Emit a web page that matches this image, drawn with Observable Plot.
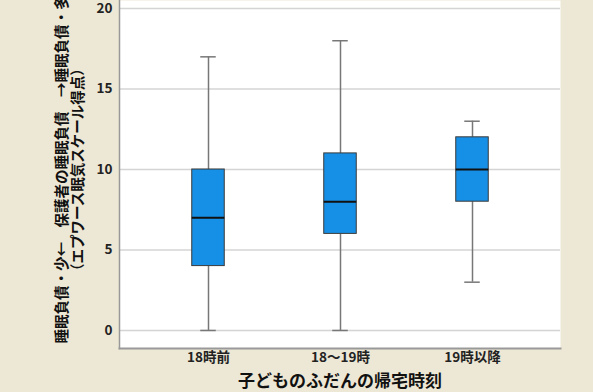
<!DOCTYPE html>
<html><head><meta charset="utf-8">
<script src="https://cdn.jsdelivr.net/npm/d3@7"></script>
<script src="https://cdn.jsdelivr.net/npm/@observablehq/plot@0.6"></script>
<style>
html,body{margin:0;padding:0;background:#ede7d5;}
#chart{width:593px;height:392px;overflow:hidden;}
</style></head>
<body><div id="chart"></div>
<script>
const categories = ["18時前", "18〜19時", "19時以降"];
const mins    = [0, 0, 3];
const q1s     = [4, 6, 8];
const medians = [7, 8, 10];
const q3s     = [10, 11, 12];
const maxs    = [17, 18, 13];
const yTicks  = [0, 5, 10, 15, 20];
const xTitle = "子どものふだんの帰宅時刻";
const yTitle1 = "睡眠負債・少←　保護者の睡眠負債　→睡眠負債・多";
const yTitle2 = "（エプワース眠気スケール得点）";

const data = categories.map((c, i) => ({cat: c, min: mins[i], q1: q1s[i], med: medians[i], q3: q3s[i], max: maxs[i]}));
const font = "'Noto Sans CJK JP', 'Noto Sans', sans-serif";
const boxInset = 49.75, capInset = 58.25;

const chart = Plot.plot({
  width: 593, height: 392,
  marginLeft: 119, marginRight: 33, marginTop: 0, marginBottom: 44,
  style: {background: "#ede7d5", fontFamily: font, overflow: "visible"},
  x: {type: "band", domain: categories, range: [140.75, 538.75], padding: 0, label: null},
  y: {domain: [-1.12, 20.5], label: null},
  marks: [
    Plot.frame({fill: "white", stroke: "none"}),
    Plot.gridY(yTicks, {stroke: "#d4d4d4", strokeOpacity: 1, strokeWidth: 1.5}),
    Plot.ruleX(data, {x: "cat", y1: "min", y2: "q1", stroke: "#777", strokeWidth: 1.5}),
    Plot.ruleX(data, {x: "cat", y1: "q3", y2: "max", stroke: "#777", strokeWidth: 1.5}),
    Plot.tickY(data, {x: "cat", y: "min", stroke: "#777", strokeWidth: 1.5, insetLeft: capInset, insetRight: capInset}),
    Plot.tickY(data, {x: "cat", y: "max", stroke: "#777", strokeWidth: 1.5, insetLeft: capInset, insetRight: capInset}),
    Plot.barY(data, {x: "cat", y1: "q1", y2: "q3", fill: "#1690e6", stroke: "#3a3a3a", strokeWidth: 1, insetLeft: boxInset, insetRight: boxInset}),
    Plot.tickY(data, {x: "cat", y: "med", stroke: "#111", strokeWidth: 2, insetLeft: boxInset, insetRight: boxInset}),
    Plot.axisY(yTicks, {tickSize: 0, tickPadding: 7, fontSize: 13.5, fontWeight: "bold", fill: "#222", label: null}),
    Plot.axisX({tickSize: 0, tickPadding: 4, fontSize: 13.5, fontWeight: "bold", fill: "#222", label: null}),
    Plot.frame({anchor: "left", stroke: "#999", strokeWidth: 1.5}),
    Plot.frame({anchor: "bottom", stroke: "#999", strokeWidth: 2}),
    Plot.text([xTitle], {text: d => d, frameAnchor: "bottom", dx: 0, dy: 33, lineAnchor: "middle", fontSize: 17, fontWeight: "bold", fill: "#111"}),
    Plot.text([yTitle1], {text: d => d, y: () => 10, frameAnchor: "left", dx: -57, rotate: -90, textAnchor: "middle", fontSize: 14.5, fontWeight: "bold", fill: "#111", lineAnchor: "middle"}),
    Plot.text([yTitle2], {text: d => d, y: () => 10, frameAnchor: "left", dx: -41, rotate: -90, textAnchor: "middle", fontSize: 14.5, fontWeight: "bold", fill: "#111", lineAnchor: "middle"})
  ]
});
document.getElementById("chart").appendChild(chart);
</script></body></html>
